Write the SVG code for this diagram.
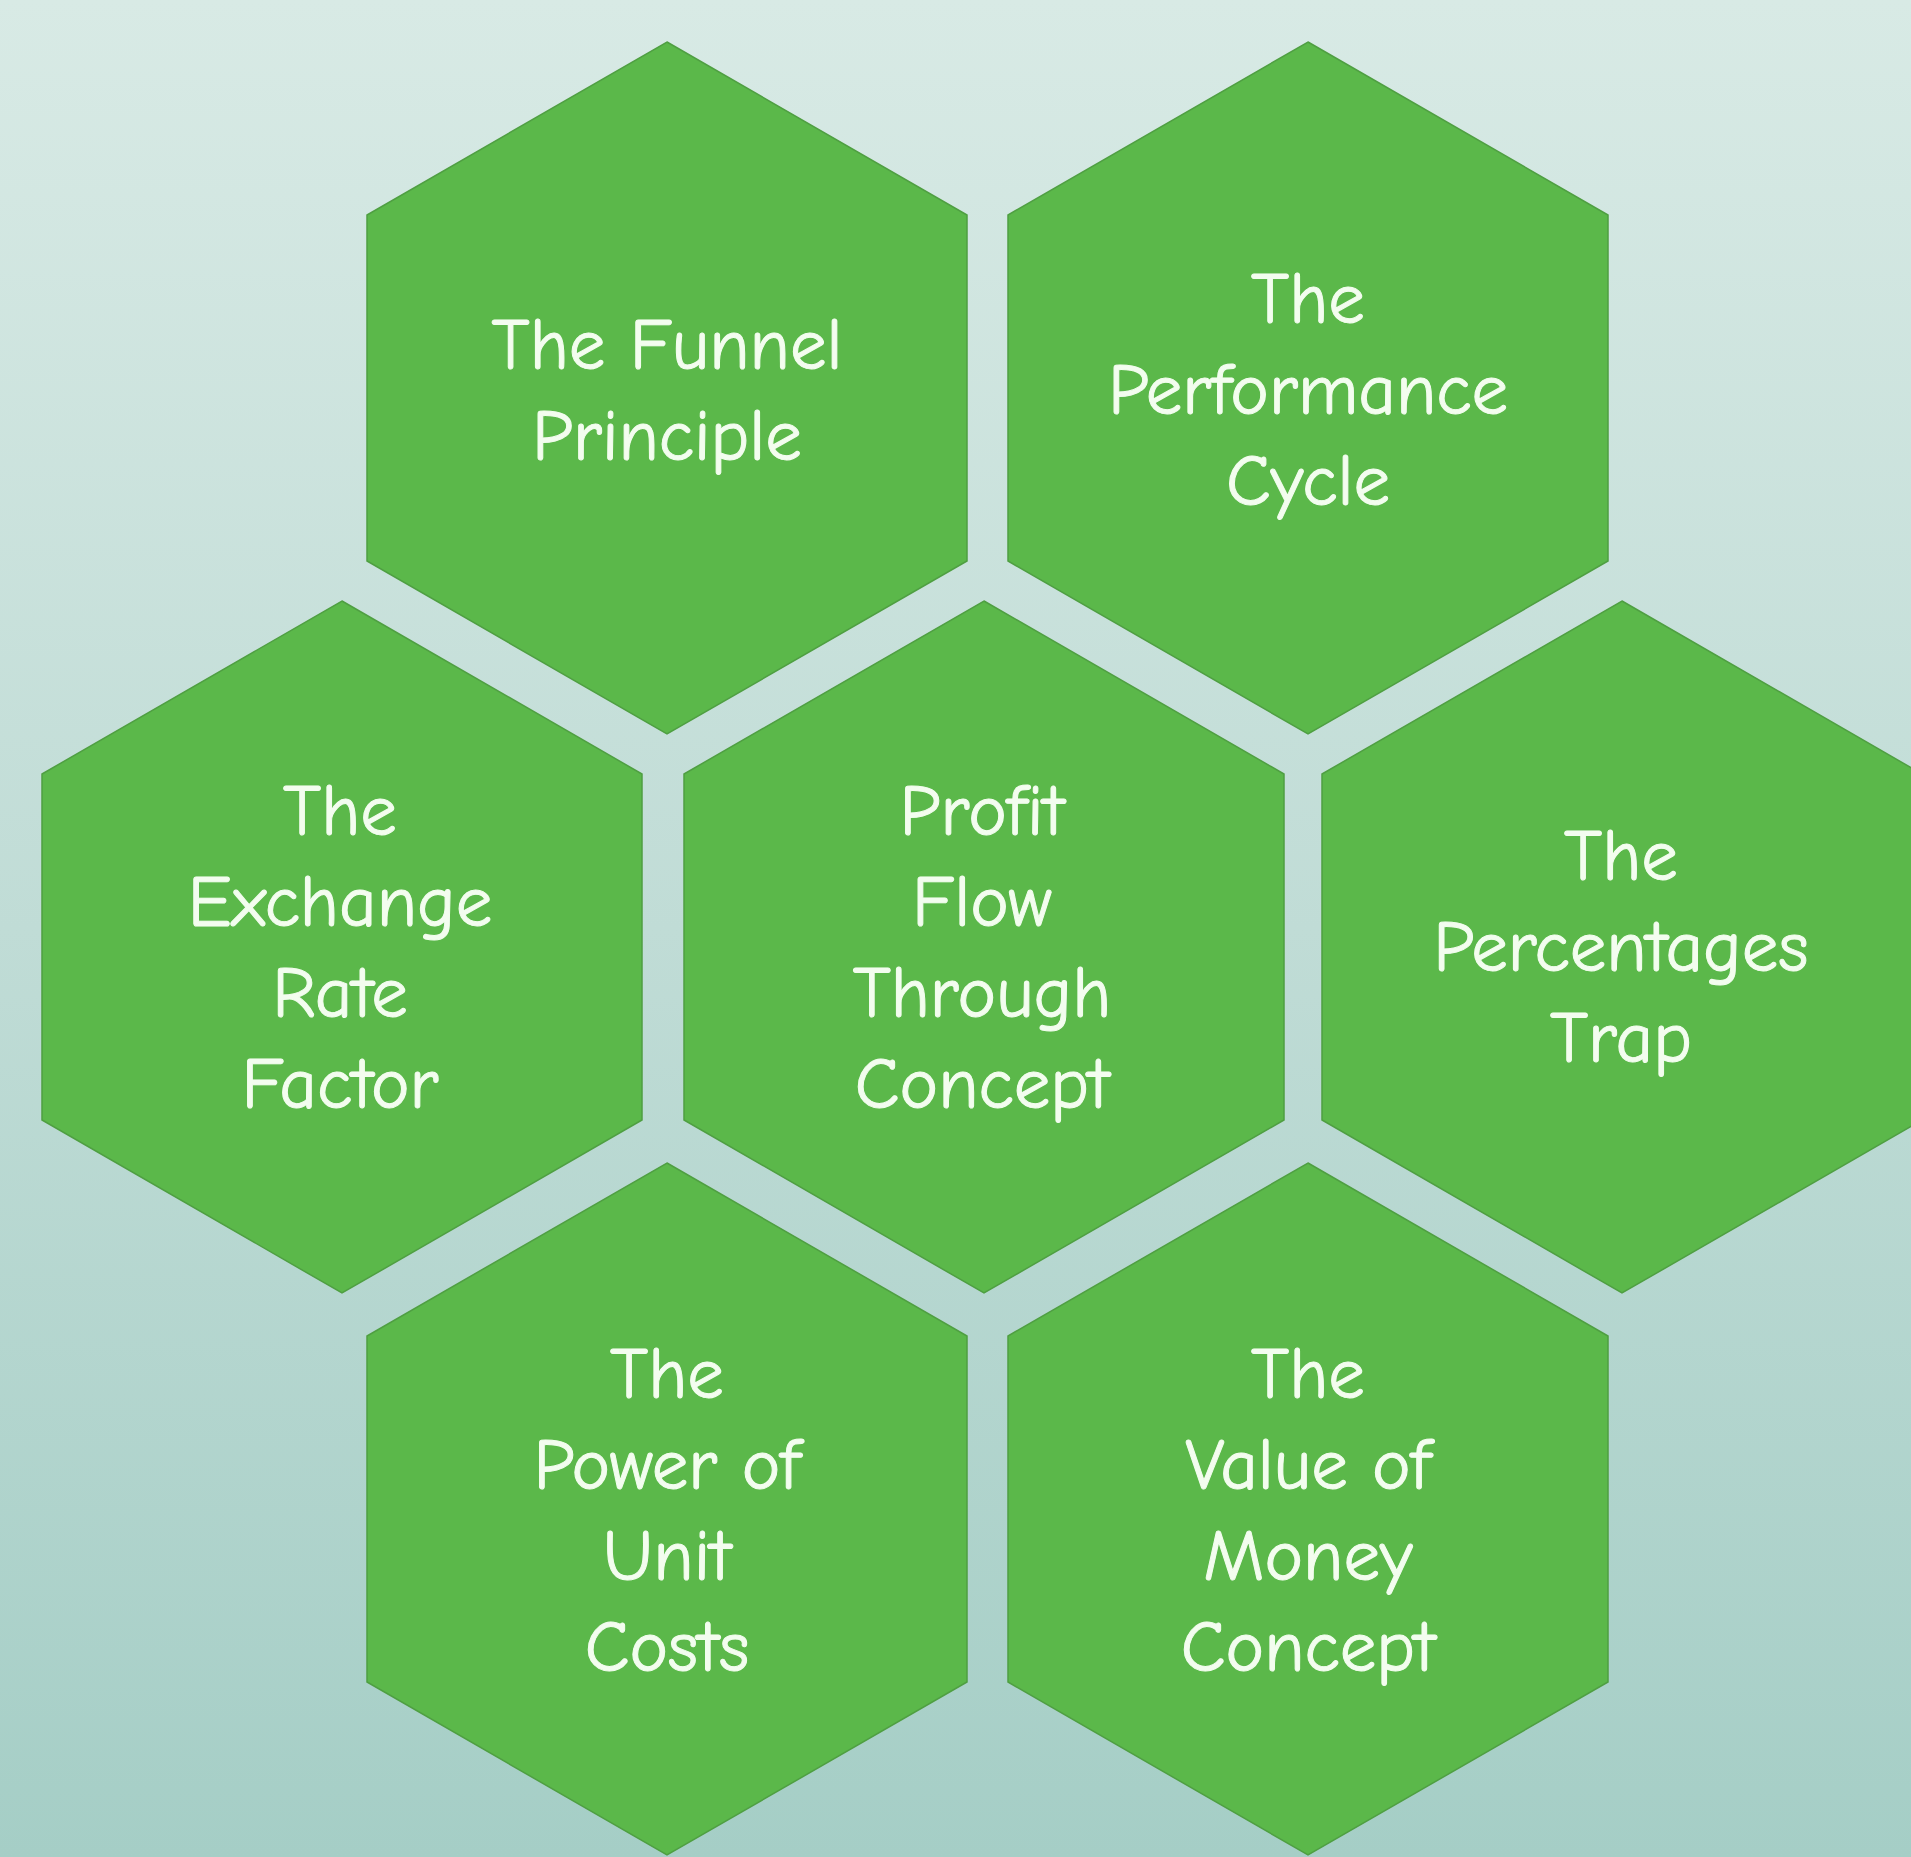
<svg xmlns="http://www.w3.org/2000/svg" xmlns:xlink="http://www.w3.org/1999/xlink" width="1911" height="1857" viewBox="0 0 1911 1857">
  <defs>
    <linearGradient id="bg" x1="0" y1="0" x2="0" y2="1">
      <stop offset="0" stop-color="#d8eae5"/>
      <stop offset="0.5" stop-color="#c0dcd6"/>
      <stop offset="1" stop-color="#a5cec6"/>
    </linearGradient>
    <polygon id="hex" points="0,-346 300,-173 300,173 0,346 -300,173 -300,-173"/>
  </defs>
  <style>
    .hex { fill: #5bb84a; stroke: #4f9f42; stroke-width: 1.5; }
    .lbl { font-family: "Comic Sans MS", "Comic Neue", "Liberation Sans", sans-serif; font-size: 73px; fill: #f3fdef; stroke: #f3fdef; stroke-width: 1; text-anchor: middle; }
  </style>
  <rect x="0" y="0" width="1911" height="1857" fill="url(#bg)"/>

  <g id="node-funnel">
    <use xlink:href="#hex" href="#hex" class="hex" x="667" y="388"/>
    <text class="lbl" x="667" y="369">The Funnel</text>
    <text class="lbl" x="667" y="460">Principle</text>
  </g>

  <g id="node-performance">
    <use xlink:href="#hex" href="#hex" class="hex" x="1308" y="388"/>
    <text class="lbl" x="1308" y="323">The</text>
    <text class="lbl" x="1308" y="414">Performance</text>
    <text class="lbl" x="1308" y="505">Cycle</text>
  </g>

  <g id="node-exchange">
    <use xlink:href="#hex" href="#hex" class="hex" x="342" y="947"/>
    <text class="lbl" x="340" y="835">The</text>
    <text class="lbl" x="340" y="926">Exchange</text>
    <text class="lbl" x="340" y="1017">Rate</text>
    <text class="lbl" x="340" y="1108">Factor</text>
  </g>

  <g id="node-profit">
    <use xlink:href="#hex" href="#hex" class="hex" x="984" y="947"/>
    <text class="lbl" x="982" y="835">Profit</text>
    <text class="lbl" x="982" y="926">Flow</text>
    <text class="lbl" x="982" y="1017">Through</text>
    <text class="lbl" x="982" y="1108">Concept</text>
  </g>

  <g id="node-percentages">
    <use xlink:href="#hex" href="#hex" class="hex" x="1622" y="947"/>
    <text class="lbl" x="1621" y="880">The</text>
    <text class="lbl" x="1621" y="971">Percentages</text>
    <text class="lbl" x="1621" y="1062">Trap</text>
  </g>

  <g id="node-power">
    <use xlink:href="#hex" href="#hex" class="hex" x="667" y="1509"/>
    <text class="lbl" x="667" y="1398">The</text>
    <text class="lbl" x="667" y="1489">Power of</text>
    <text class="lbl" x="667" y="1580">Unit</text>
    <text class="lbl" x="667" y="1671">Costs</text>
  </g>

  <g id="node-value">
    <use xlink:href="#hex" href="#hex" class="hex" x="1308" y="1509"/>
    <text class="lbl" x="1308" y="1398">The</text>
    <text class="lbl" x="1308" y="1489">Value of</text>
    <text class="lbl" x="1308" y="1580">Money</text>
    <text class="lbl" x="1308" y="1671">Concept</text>
  </g>

  <g id="connectors"></g>
</svg>
